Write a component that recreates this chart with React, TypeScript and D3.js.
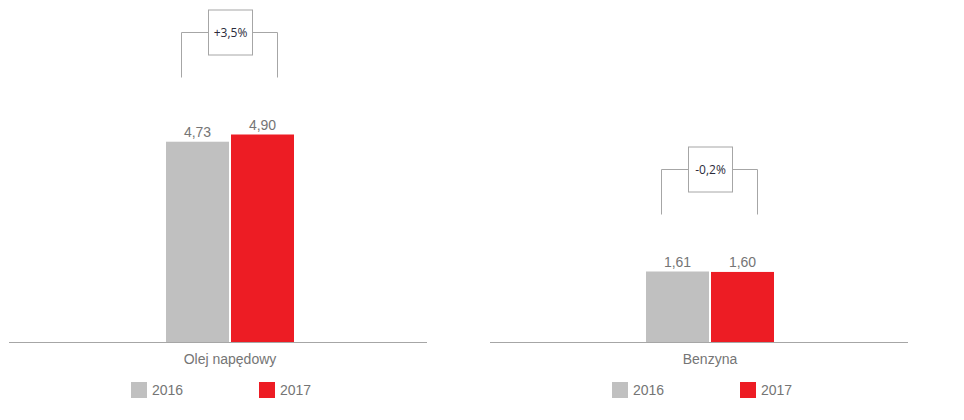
import React from "react";
import * as d3 from "d3";

const categories = ["Olej napędowy", "Benzyna"];
const years = ["2016", "2017"];
const values2016 = [4.73, 1.61];
const values2017 = [4.9, 1.6];
const changeLabels = ["+3,5%", "-0,2%"];
const valueLabels2016 = ["4,73", "1,61"];
const valueLabels2017 = ["4,90", "1,60"];

const COLORS = ["#c0c0c0", "#ed1c24"];
const TEXT = "#757575";
const W = 964;
const H = 420;
const BASE = 342.5;
const PANEL_W = 418;
const panelX = [9, 490];
const panelCenters = [230, 710];
// each panel has its own vertical scale (pixels available for its max value)
const panelHeights = [208, 71];

export default function App() {
  return (
    <svg width={W} height={H} style={{ position: "absolute", left: 0, top: 0, background: "#fff" }}
      fontFamily="'Liberation Sans', Arial, sans-serif">
      {categories.map((cat, i) => {
        const x0 = panelX[i];
        const vals = [values2016[i], values2017[i]];
        const labels = [valueLabels2016[i], valueLabels2017[i]];
        const maxV = d3.max(vals) as number;
        const y = d3.scaleLinear().domain([0, maxV]).range([BASE, BASE - panelHeights[i]]);
        const center = panelCenters[i];
        const x = d3.scaleBand<string>().domain(years).range([center - 64, center + 64]).paddingInner(2 / 65);
        const bw = x.bandwidth();
        const topY = y(maxV);
        const brTop = topY - 57;
        const brY = brTop - 45;
        const lx = (x(years[0]) as number) + bw / 2 - 16;
        const rx = (x(years[1]) as number) + bw / 2 + 15;
        const boxW = 44;
        const boxH = 45;
        return (
          <g key={cat}>
            {vals.map((v, j) => (
              <g key={j}>
                <rect x={x(years[j])} y={y(v)} width={bw} height={BASE - y(v)} fill={COLORS[j]} />
                <text x={(x(years[j]) as number) + bw / 2} y={y(v) - 5} textAnchor="middle" fontSize={14} fill={TEXT}>
                  {labels[j]}
                </text>
              </g>
            ))}
            <line x1={x0} x2={x0 + PANEL_W} y1={BASE} y2={BASE} stroke="#a6a6a6" strokeWidth={1} />
            <text x={center} y={364} textAnchor="middle" fontSize={14} fill={TEXT}>{cat}</text>
            <path d={`M${lx},${brTop}V${brY}H${center - boxW / 2}M${center + boxW / 2},${brY}H${rx}V${brTop}`}
              fill="none" stroke="#a6a6a6" strokeWidth={1} />
            <rect x={center - boxW / 2 + 0.5} y={brY - boxH / 2} width={boxW} height={boxH} fill="#fff" stroke="#a6a6a6" strokeWidth={1} />
            <text x={center + 0.5} y={brY + 4} textAnchor="middle" fontSize={12} fill="#2b2b3b"
              fontFamily="'Open Sans', 'DejaVu Sans', sans-serif">{changeLabels[i]}</text>
            {years.map((yr, j) => (
              <g key={yr} transform={`translate(${x0 + 122 + j * 128},382)`}>
                <rect width={16} height={16} fill={COLORS[j]} />
                <text x={21} y={13} fontSize={14} fill={TEXT}>{yr}</text>
              </g>
            ))}
          </g>
        );
      })}
    </svg>
  );
}
